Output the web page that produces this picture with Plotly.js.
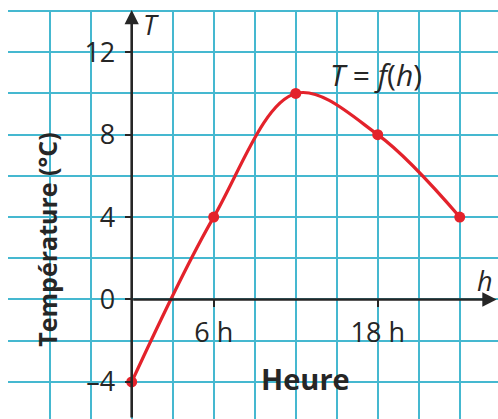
<!DOCTYPE html>
<html>
<head>
<meta charset="utf-8">
<script src="https://cdn.plot.ly/plotly-3.0.1.min.js"></script>
<style>
  html, body { margin: 0; padding: 0; background: #ffffff; }
  #chart { width: 498px; height: 419px; }
</style>
</head>
<body>
<div id="chart"></div>
<script>
// Temperature over the day: T = f(h)
const hours = [0, 6, 12, 18, 24];
const temperatures = [-4, 4, 10, 8, 4];

// Labelled ticks on the two axes
const hourTicks = [6, 18];
const hourTickLabels = ['6 h', '18 h'];
const tempTicks = [-4, 0, 4, 8, 12];
const tempTickLabels = ['\u20134', '0', '4', '8', '12'];

// Visible window of the squared paper
const xRange = [-9.05, 26.8];
const yRange = [-5.8, 14.05];

// Where the origin falls inside the plot area (fractions)
const originFracX = (0 - xRange[0]) / (xRange[1] - xRange[0]);
const originFracY = (0 - yRange[0]) / (yRange[1] - yRange[0]);

const GRID = '#45b8d0';
const INK = '#262626';
const RED = '#e3222b';
const FONT = 'Open Sans, Noto Sans, sans-serif';

const curve = {
  x: hours,
  y: temperatures,
  type: 'scatter',
  mode: 'lines+markers',
  line: { color: RED, width: 3.2, shape: 'spline', smoothing: 1 },
  marker: { color: RED, size: 11 },
  cliponaxis: false,
  hoverinfo: 'skip'
};

const tickFont = { size: 27, color: INK, family: FONT, weight: 500 };

const layout = {
  width: 498,
  height: 419,
  margin: { l: 8, r: 0, t: 10, b: 0, pad: 0 },
  paper_bgcolor: '#ffffff',
  plot_bgcolor: '#ffffff',
  showlegend: false,
  font: { family: FONT, color: INK },
  xaxis: {
    range: xRange,
    anchor: 'free',
    position: originFracY,
    showline: false,
    zeroline: false,
    tickmode: 'array',
    tickvals: hourTicks,
    ticktext: hourTickLabels,
    ticks: 'outside',
    ticklen: 7,
    tickwidth: 2,
    tickcolor: INK,
    ticklabelstandoff: 2,
    tickfont: tickFont,
    showgrid: true,
    gridcolor: GRID,
    gridwidth: 2,
    minor: { tick0: 0, dtick: 3, showgrid: true, gridcolor: GRID, gridwidth: 2, ticks: '' },
    fixedrange: true
  },
  yaxis: {
    range: yRange,
    anchor: 'free',
    position: originFracX,
    showline: false,
    zeroline: false,
    tickmode: 'array',
    tickvals: tempTicks,
    ticktext: tempTickLabels,
    ticks: 'outside',
    ticklen: 7,
    tickwidth: 2,
    tickcolor: INK,
    ticklabelstandoff: 4,
    tickfont: tickFont,
    showgrid: true,
    gridcolor: GRID,
    gridwidth: 2,
    minor: { tick0: 0, dtick: 2, showgrid: true, gridcolor: GRID, gridwidth: 2, ticks: '' },
    fixedrange: true
  },
  annotations: [
    // horizontal axis with its arrow, starting at the origin
    {
      xref: 'x', yref: 'y', axref: 'x', ayref: 'y',
      x: xRange[1] - 0.1, y: 0, ax: 0, ay: 0,
      showarrow: true, arrowhead: 2, arrowsize: 1.1, arrowwidth: 2.6,
      arrowcolor: INK, standoff: 0, startstandoff: 0, text: ''
    },
    // vertical axis with its arrow
    {
      xref: 'x', yref: 'y', axref: 'x', ayref: 'y',
      x: 0, y: yRange[1], ax: 0, ay: yRange[0],
      showarrow: true, arrowhead: 2, arrowsize: 1.1, arrowwidth: 2.6,
      arrowcolor: INK, standoff: 0, startstandoff: 0, text: ''
    },
    {
      xref: 'x', yref: 'y', x: 0.7, y: 13.35, xanchor: 'left', yanchor: 'middle',
      text: '<i>T</i>', showarrow: false, font: { size: 27, color: INK, family: FONT }
    },
    {
      xref: 'x', yref: 'y', x: 26.6, y: 0.9, xanchor: 'right', yanchor: 'middle',
      text: '<i>h</i>', showarrow: false, font: { size: 27, color: INK, family: FONT }
    },
    {
      xref: 'x', yref: 'y', x: 17.9, y: 10.9, xanchor: 'center', yanchor: 'middle',
      text: '<i>T</i> = <i>f</i>(<i>h</i>)', showarrow: false,
      font: { size: 30, color: INK, family: FONT }
    },
    {
      xref: 'x', yref: 'y', x: 12.7, y: -3.85, xanchor: 'center', yanchor: 'middle',
      text: '<b>Heure</b>', showarrow: false, font: { size: 29, color: INK, family: FONT }
    },
    {
      xref: 'x', yref: 'y', x: -6.2, y: 2.9, xanchor: 'center', yanchor: 'middle',
      textangle: -90, text: '<b>Température (°C)</b>', showarrow: false,
      font: { size: 25, color: INK, family: FONT }
    }
  ]
};

Plotly.newPlot('chart', [curve], layout, { staticPlot: true, displayModeBar: false });
</script>
</body>
</html>
